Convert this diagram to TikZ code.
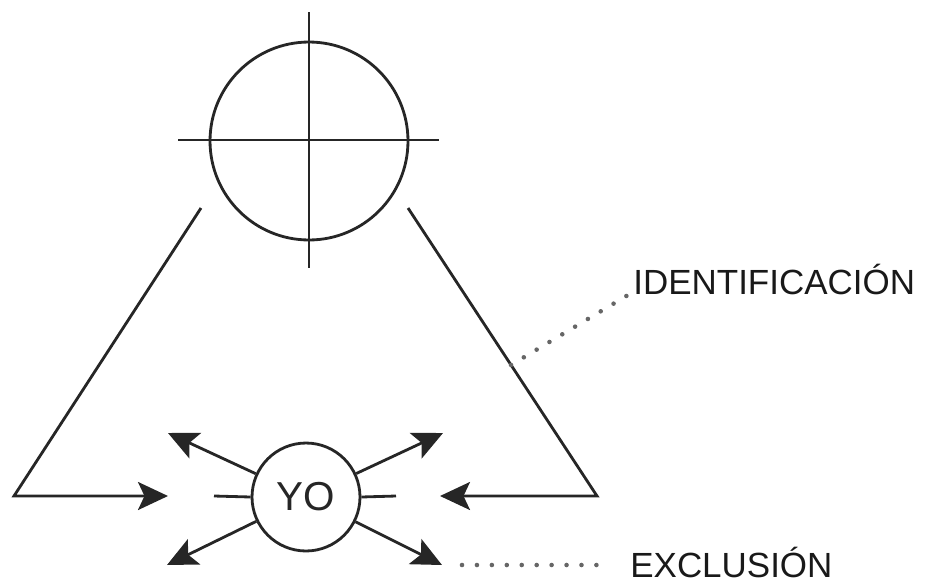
\documentclass[tikz,border=0pt]{standalone}
\usepackage{fontspec}
\setmainfont{Liberation Sans}
\usepackage{tikz}
\usetikzlibrary{positioning,arrows.meta,calc}

\begin{document}
\begin{tikzpicture}[
    x=0.02cm, y=-0.02cm,
    stroke/.style={line width=1.6pt, black!85},
    whole/.style={circle, draw, line width=1.6pt, black!85, minimum size=3.96cm, inner sep=0pt},
    ego/.style={circle, draw, line width=1.6pt, black!85, minimum size=2.16cm, inner sep=0pt, font=\fontsize{23}{27}\selectfont},
    arrow/.style={stroke, -{Stealth[length=0.6cm, width=0.56cm, inset=0.13cm]}},
    leader/.style={line width=2.6pt, black!60, line cap=round, dash pattern=on 0pt off 8.5pt},
    label text/.style={font=\fontsize{19.9}{24}\selectfont, inner sep=0pt, text=black!90}
]
\useasboundingbox (0,0) rectangle (925,585);

% the whole, crossed
\node[whole] (whole) at (309,141) {};
\coordinate (crossN) at (309,12);
\coordinate (crossS) at (309,268);
\coordinate (crossW) at (178,140);
\coordinate (crossE) at (439,140);
\draw[stroke] (crossN) -- (crossS);
\draw[stroke] (crossW) -- (crossE);

% triangle sides, turning inward
\coordinate (apexL) at (201,208);
\coordinate (cornerL) at (14,496);
\coordinate (tipL) at (168,496);
\coordinate (apexR) at (408,208);
\coordinate (cornerR) at (597,496);
\coordinate (tipR) at (440,496);
\draw[arrow] (apexL) -- (cornerL) -- (tipL);
\draw[arrow] (apexR) -- (cornerR) -- (tipR);

% the self
\node[ego] (yo) at (306,497) {YO};
\coordinate (stubL) at (214,496);
\coordinate (stubR) at (396,496);
\draw[stroke] (stubL) -- (yo.west);
\draw[stroke] (yo.east) -- (stubR);

\coordinate (outUL) at (168,433);
\coordinate (outUR) at (443,433);
\coordinate (outLL) at (167,565);
\coordinate (outLR) at (442,565);
\foreach \t in {outUL,outUR,outLL,outLR}
    \draw[arrow] (yo) -- (\t);

% labels
\node[label text, anchor=base west] (ident) at (633,294) {IDENTIFICACIÓN};
\node[label text, anchor=base west] (excl) at (630,577) {EXCLUSIÓN};
\coordinate (sideR) at ($(apexR)!0.545!(cornerR)$);
\draw[leader] (sideR) -- ($(ident.base west)+(-5,1)$);
\draw[leader] ($(outLR)+(20,0)$) -- ($(excl.base west)+(-20,-12)$);
\end{tikzpicture}
\end{document}
